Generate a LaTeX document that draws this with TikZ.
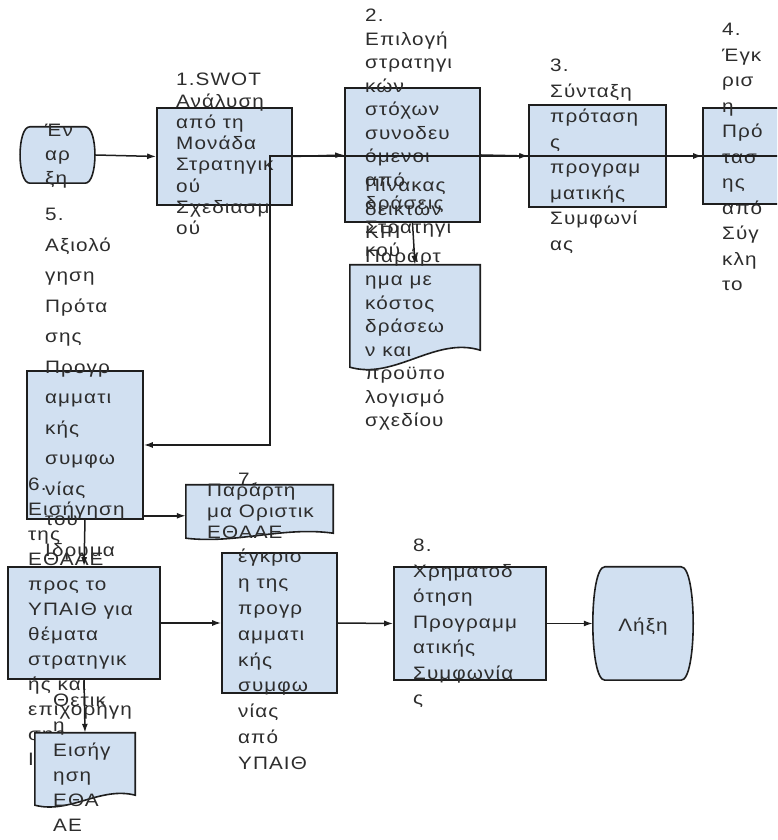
\documentclass[tikz,border=0pt]{standalone}
\usepackage{fontspec}
\setmainfont{Liberation Sans}[FakeStretch=1.15,LetterSpace=6]
\usetikzlibrary{arrows.meta}
\definecolor{boxfill}{RGB}{209,224,241}
\definecolor{boxline}{RGB}{30,30,30}
\definecolor{txtgray}{RGB}{45,45,45}
\tikzset{
    box/.style={draw=boxline, fill=boxfill, line width=1.6pt, inner sep=0pt},
    area/.style={inner sep=0pt},
    outline/.style={draw=boxline, fill=boxfill, line width=1.6pt},
    lbl/.style={anchor=north west, align=left, inner sep=0pt, text=txtgray,
        font=\fontsize{18}{#1}\selectfont},
    flow/.style={-{Latex[length=9pt,width=6pt]}, line width=1.5pt, draw=boxline},
}

\begin{document}
\begin{tikzpicture}[x=1pt,y=1pt]
    \useasboundingbox (0,0) rectangle (777,840);
    \clip (0,0) rectangle (777,840);

    \path (57.5, 685) node [area, minimum width=75pt, minimum height=56pt] (start) {};
    \filldraw [outline] ([xshift=10pt]start.north west) -- ([xshift=-10pt]start.north east)
        .. controls ([xshift=3pt]start.north east) and ([xshift=3pt]start.south east)
        .. ([xshift=-10pt]start.south east) -- ([xshift=10pt]start.south west)
        .. controls ([xshift=-3pt]start.south west) and ([xshift=-3pt]start.north west)
        .. cycle;
    \path (45, 716) node [lbl=24] (starttxt) {Έν\\αρ\\ξη};

    \path (224.5, 683.5) node [box, minimum width=135pt, minimum height=97pt] (b1) {};
    \path (176, 767) node [lbl=21.3] (b1txt) {1.SWOT\\Ανάλυση\\από τη\\Μονάδα\\Στρατηγικ\\ού\\Σχεδιασμ\\ού};

    \path (412.5, 685) node [box, minimum width=135pt, minimum height=134pt] (b2) {};
    \path (365, 831) node [lbl=23.5] (b2txt) {2.\\Επιλογή\\στρατηγι\\κών\\στόχων\\συνοδευ\\όμενοι\\από\\δράσεις\\Στρατηγι\\κού\\Σχεδίου};

    \path (415, 528.5) node [area, minimum width=130pt, minimum height=93pt] (d3) {};
    \filldraw [outline] (d3.north west) -- (d3.north east) -- ([yshift=8pt]d3.south east)
        .. controls ([xshift=-45pt,yshift=22pt]d3.south east) and ([xshift=45pt,yshift=-22pt]d3.south west)
        .. ([yshift=-9pt]d3.south west) -- cycle;
    \path (365, 662) node [lbl=23.5] (d3txt) {Πίνακας\\δεικτών\\KPI\\Παράρτ\\ημα με\\κόστος\\δράσεω\\ν και\\προϋπο\\λογισμό\\σχεδίου};

    \path (597.5, 684) node [box, minimum width=137pt, minimum height=102pt] (b3) {};
    \path (550, 781) node [lbl=25.5] (b3txt) {3.\\Σύνταξη\\πρόταση\\ς\\προγραμ\\ματικής\\Συμφωνί\\ας};

    \path (770.5, 684) node [box, minimum width=135pt, minimum height=96pt] (b4) {};
    \path (722, 817) node [lbl=25.5] (b4txt) {4.\\Έγκ\\ρισ\\η\\Πρό\\τασ\\ης\\από\\Σύγ\\κλη\\το};

    \path (85, 395) node [box, minimum width=116pt, minimum height=148pt] (b5) {};
    \path (45, 632) node [lbl=30.5] (b5txt) {5.\\Αξιολό\\γηση\\Πρότα\\σης\\Προγρ\\αμματι\\κής\\συμφω\\νίας\\του\\Ιδρυμα};

    \path (84, 217) node [box, minimum width=152pt, minimum height=112pt] (b6) {};
    \path (28, 362) node [lbl=25] (b6txt) {6.\\Εισήγηση\\της\\ΕΘΑΑΕ\\προς το\\ΥΠΑΙΘ για\\θέματα\\στρατηγικ\\ής και\\επιχορήγη\\σης\\Ιδρύ};

    \path (85, 73.5) node [area, minimum width=100pt, minimum height=67pt] (d1) {};
    \filldraw [outline] (d1.north west) -- (d1.north east) -- ([yshift=5pt]d1.south east)
        .. controls ([xshift=-35pt,yshift=14pt]d1.south east) and ([xshift=35pt,yshift=-14pt]d1.south west)
        .. ([yshift=-5pt]d1.south west) -- cycle;
    \path (53, 146) node [lbl=25] (d1txt) {Θετικ\\η\\Εισήγ\\ηση\\ΕΘΑ\\ΑΕ};

    \path (279.5, 217) node [box, minimum width=115pt, minimum height=140pt] (b7) {};
    \path (238, 367) node [lbl=25.8] (b7txt) {7.\\[51.6pt]έγκρισ\\η της\\προγρ\\αμματι\\κής\\συμφω\\νίας\\από\\ΥΠΑΙΘ};

    \path (259.5, 330) node [area, minimum width=147pt, minimum height=50pt] (d2) {};
    \filldraw [outline] (d2.north west) -- (d2.north east) -- ([yshift=2pt]d2.south east)
        .. controls ([xshift=-50pt,yshift=9pt]d2.south east) and ([xshift=50pt,yshift=-9pt]d2.south west)
        .. ([yshift=-3pt]d2.south west) -- cycle;
    \path (207, 357) node [lbl=21] (d2txt) {Παράρτη\\μα Οριστικ\\ΕΘΑΑΕ};

    \path (470, 216.5) node [box, minimum width=152pt, minimum height=113pt] (b8) {};
    \path (413, 301) node [lbl=25.5] (b8txt) {8.\\Χρηματοδ\\ότηση\\Προγραμμ\\ατικής\\Συμφωνία\\ς};

    \path (643, 216.5) node [area, minimum width=100pt, minimum height=113pt] (end) {};
    \filldraw [outline] ([xshift=12pt]end.north west) -- ([xshift=-12pt]end.north east)
        .. controls ([xshift=4pt]end.north east) and ([xshift=4pt]end.south east)
        .. ([xshift=-12pt]end.south east) -- ([xshift=12pt]end.south west)
        .. controls ([xshift=-4pt]end.south west) and ([xshift=-4pt]end.north west)
        .. cycle;
    \path (end.center) node [text=txtgray, font=\fontsize{18}{20}\selectfont, yshift=-3pt] (endtxt) {Λήξη};

    \coordinate (back) at (270, 395);
    \draw [flow] (start.east) -- (b1.west);
    \draw [flow] (b1.east) -- (b2.west);
    \draw [flow] (b2.east) -- (b3.west);
    \draw [flow] (b3.east) -- (b4.west);
    \draw [flow] (b4.east) -- (back |- b4.east) -- (back) -- (b5.east);
    \draw [flow] (b2.south) -- (d3.north);
    \draw [flow] (b5.south) -- (b6.north);
    \draw [flow] ([yshift=4pt]b5.south east) -- ([yshift=4pt]b5.south east -| d2.west);
    \draw [flow] (b6.south) -- (d1.north);
    \draw [flow] (b6.east) -- (b7.west);
    \draw [flow] (b7.east) -- (b8.west);
    \draw [flow] (b8.east) -- (end.west);
\end{tikzpicture}
\end{document}
